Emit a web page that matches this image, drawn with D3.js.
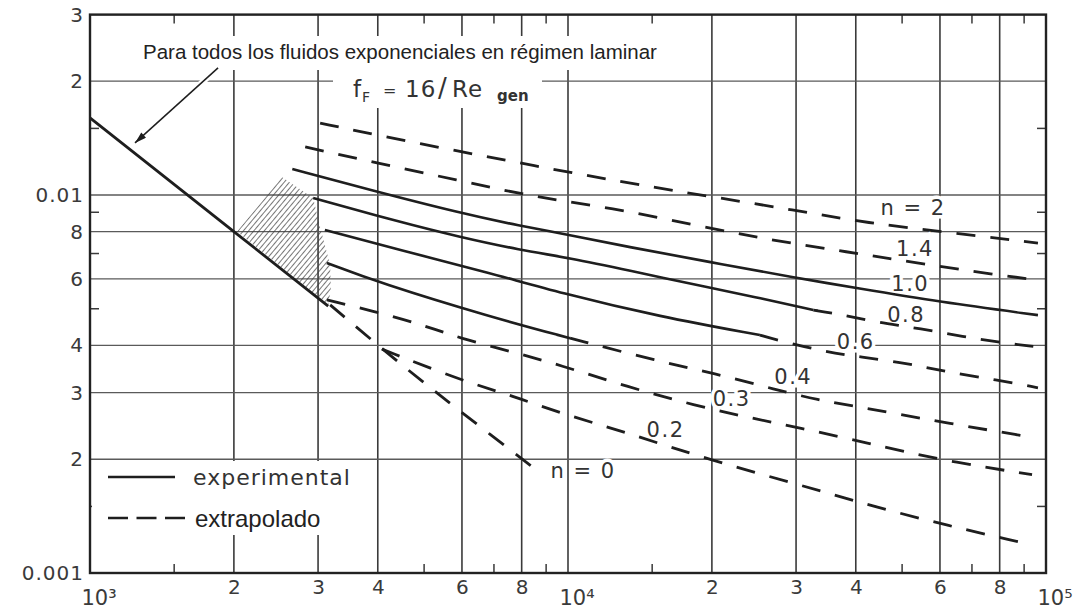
<!DOCTYPE html>
<html>
<head>
<meta charset="utf-8">
<script src="https://cdn.jsdelivr.net/npm/d3@7"></script>
<style>
    body { margin: 0; background: #fff; }
    .tech { font-family: "DejaVu Sans", sans-serif; fill: #333; }
    .sans { font-family: "Liberation Sans", Arial, sans-serif; fill: #222; }
</style>
</head>
<body>
<div id="chart"></div>
<script>
// Data: generalized Reynolds number vs Fanning friction factor
const laminarRe = [1000, 2000, 3150];
const laminarF = [0.016, 0.008, 0.00508];

const reN2 = [3030, 3980, 6000, 7940, 10000, 14100, 20100, 29600, 42200, 63900, 96200];
const fN2 = [0.0155, 0.0144, 0.0130, 0.01215, 0.0115, 0.01063, 0.00988, 0.00913, 0.00843, 0.00793, 0.00746];

const reN14 = [2820, 3980, 5860, 8450, 12400, 18300, 26500, 38400, 53700, 79000, 96200];
const fN14 = [0.0134, 0.01215, 0.01096, 0.00988, 0.00924, 0.00833, 0.0076, 0.00707, 0.00661, 0.00614, 0.00596];

const reN10 = [2650, 3850, 5940, 7940, 10100, 13300, 19800, 30100, 39900, 60000, 96200];
const fN10 = [0.01172, 0.01031, 0.00896, 0.00828, 0.00784, 0.00729, 0.00665, 0.00603, 0.00568, 0.00521, 0.00481];

const reN08 = [2930, 4450, 5940, 7940, 10100, 13300, 19800, 25200, 32600, 37100, 43900, 53700, 73500, 96200];
const fN08 = [0.00982, 0.00848, 0.00774, 0.00715, 0.00681, 0.00633, 0.00568, 0.00534, 0.00496, 0.00484, 0.00461, 0.00445, 0.00413, 0.00396];

const reN06 = [3100, 4450, 6870, 9620, 15600, 25200, 27400, 34800, 40800, 51200, 62100, 79000, 96200];
const fN06 = [0.00808, 0.00715, 0.00622, 0.00551, 0.00476, 0.00426, 0.00413, 0.00384, 0.00373, 0.00359, 0.0034, 0.00324, 0.00309];

const reN04 = [3130, 4040, 6870, 10100, 15600, 20100, 27400, 33200, 40800, 60000, 92600];
const fN04 = [0.00661, 0.00585, 0.00476, 0.00418, 0.00362, 0.00338, 0.00305, 0.00287, 0.00275, 0.00251, 0.00229];

const reN03 = [3130, 3980, 4970, 5940, 7670, 9620, 13300, 18300, 25200, 30100, 42200, 60000, 93500];
const fN03 = [0.00528, 0.0049, 0.00453, 0.00418, 0.00384, 0.00355, 0.00311, 0.00278, 0.00254, 0.00243, 0.00221, 0.00199, 0.00182];

const reN02 = [4080, 5940, 7670, 9620, 13300, 19800, 30600, 43500, 63000, 87400];
const fN02 = [0.00391, 0.00324, 0.00294, 0.00265, 0.00235, 0.00199, 0.00171, 0.0015, 0.00133, 0.00121];

const reN0 = [3180, 4180, 5320, 6770, 8740];
const fN0 = [0.00512, 0.00382, 0.00299, 0.00236, 0.00184];

// Re up to which each curve is experimental (solid)
const experimentalTo = [0, 0, 96200, 32600, 25200, 10100, 0, 0, 0];

// transition zone (hatched)
const hatchRe = [2030, 2520, 2930, 3030, 3180, 3190, 3150];
const hatchF = [0.008, 0.01116, 0.00982, 0.00823, 0.00653, 0.00561, 0.00512];

// curve labels
const labelText = ["n = 2", "1.4", "1.0", "0.8", "0.6", "0.4", "0.3", "0.2", "n = 0"];
const labelRe = [52700, 53200, 52000, 51000, 40000, 29600, 22000, 16000, 10750];
const labelF = [0.00924, 0.0072, 0.00582, 0.00481, 0.00408, 0.0033, 0.00289, 0.00239, 0.00186];

// arrow pointing to the laminar line
const arrowRe = [1853, 1242];
const arrowF = [0.02168, 0.01373];

// axes
const xTicks = [1000, 2000, 3000, 4000, 6000, 8000, 10000, 20000, 30000, 40000, 60000, 80000, 100000];
const xTickText = ["10³", "2", "3", "4", "6", "8", "10⁴", "2", "3", "4", "6", "8", "10⁵"];
const xMinor = [1500, 5000, 7000, 9000, 15000, 50000, 70000, 90000];
const yTicks = [0.001, 0.002, 0.003, 0.004, 0.006, 0.008, 0.01, 0.02, 0.03];
const yTickText = ["0.001", "2", "3", "4", "6", "8", "0.01", "2", "3"];
const yMinor = [0.0015, 0.005, 0.007, 0.009, 0.015];

// Configuration
const margin = { top: 14.6, left: 90 };
const width = 956;
const height = 558.4;
const ink = "#1e1e1e";

const root = d3.select("#chart")
    .append("svg")
    .attr("width", 1077)
    .attr("height", 610);

const defs = root.append("defs");
defs.append("pattern")
    .attr("id", "hatch")
    .attr("patternUnits", "userSpaceOnUse")
    .attr("width", 4)
    .attr("height", 4)
    .attr("patternTransform", "rotate(40)")
    .append("line")
    .attr("x1", 0).attr("y1", 0)
    .attr("x2", 0).attr("y2", 4)
    .attr("stroke", "#3c3c3c")
    .attr("stroke-width", 1.4);

defs.append("marker")
    .attr("id", "arrow")
    .attr("markerUnits", "userSpaceOnUse")
    .attr("viewBox", "0 0 10 6")
    .attr("refX", 10)
    .attr("refY", 3)
    .attr("markerWidth", 15)
    .attr("markerHeight", 7)
    .attr("orient", "auto")
    .append("path")
    .attr("d", "M0,0 L10,3 L0,6 Z")
    .attr("fill", ink);

const plot = () => root.append("g").attr("transform", `translate(${margin.left}, ${margin.top})`);
const gridLayer = plot();
const maskLayer = root.append("g");
const hatchLayer = plot();
const labelLayer = plot();
const curveLayer = plot();
const frameLayer = plot();
const annoLayer = root.append("g");

const x = d3.scaleLog().domain([1000, 100000]).range([0, width]);
const y = d3.scaleLog().domain([0.001, 0.03]).range([height, 0]);

// Grid
gridLayer.selectAll(".vgrid")
    .data(xTicks)
    .join("line")
    .attr("x1", d => x(d)).attr("x2", d => x(d))
    .attr("y1", 0).attr("y2", height)
    .attr("stroke", "#3a3a3a")
    .attr("stroke-width", 1.6);

gridLayer.selectAll(".hgrid")
    .data(yTicks)
    .join("line")
    .attr("x1", 0).attr("x2", width)
    .attr("y1", d => y(d)).attr("y2", d => y(d))
    .attr("stroke", "#5a5a5a")
    .attr("stroke-width", 1.4);

// Minor ticks on all four sides
const tickLen = 9;
xMinor.forEach(d => {
    [[0, tickLen], [height, height - tickLen]].forEach(([a, b]) => {
        gridLayer.append("line")
            .attr("x1", x(d)).attr("x2", x(d)).attr("y1", a).attr("y2", b)
            .attr("stroke", "#3a3a3a").attr("stroke-width", 1.5);
    });
});
yMinor.forEach(d => {
    [[0, tickLen], [width, width - tickLen]].forEach(([a, b]) => {
        gridLayer.append("line")
            .attr("y1", y(d)).attr("y2", y(d)).attr("x1", a).attr("x2", b)
            .attr("stroke", "#3a3a3a").attr("stroke-width", 1.5);
    });
});

// White patches where the original grid is interrupted by text
[[138, 36, 524, 34], [333, 70, 209, 38], [92, 461, 273, 74]].forEach(([rx, ry, rw, rh]) => {
    maskLayer.append("rect")
        .attr("x", rx).attr("y", ry).attr("width", rw).attr("height", rh)
        .attr("fill", "#fff");
});

// Transition zone
const hatchPts = hatchRe.map((r, i) => [x(r), y(hatchF[i])]);
hatchLayer.append("polygon")
    .attr("points", hatchPts.map(p => p.join(",")).join(" "))
    .attr("fill", "url(#hatch)");

// Curve labels with white halo
labelLayer.selectAll(".clabel")
    .data(labelText)
    .join("text")
    .attr("class", "tech")
    .attr("x", (d, i) => x(labelRe[i]))
    .attr("y", (d, i) => y(labelF[i]))
    .attr("text-anchor", "middle")
    .attr("dominant-baseline", "central")
    .style("font-size", "21px")
    .style("letter-spacing", "1.5px")
    .attr("stroke", "#fff")
    .attr("stroke-width", 7)
    .attr("paint-order", "stroke")
    .text(d => d);

// Curves
const curves = [
    [reN2, fN2], [reN14, fN14], [reN10, fN10], [reN08, fN08], [reN06, fN06],
    [reN04, fN04], [reN03, fN03], [reN02, fN02], [reN0, fN0]
];

const line = d3.line()
    .x(d => x(d.re))
    .y(d => y(d.f))
    .curve(d3.curveBasis);

curves.forEach(([res, fs], i) => {
    const pts = res.map((r, j) => ({ re: r, f: fs[j] }));
    const solid = pts.filter(p => p.re <= experimentalTo[i]);
    const dashed = pts.filter(p => p.re >= experimentalTo[i]);
    if (solid.length > 1) {
        curveLayer.append("path")
            .attr("d", line(solid))
            .attr("fill", "none")
            .attr("stroke", ink)
            .attr("stroke-width", 2.6);
    }
    if (dashed.length > 1) {
        curveLayer.append("path")
            .attr("d", line(dashed))
            .attr("fill", "none")
            .attr("stroke", ink)
            .attr("stroke-width", 2.8)
            .attr("stroke-dasharray", "19,15");
    }
});

// Laminar line
curveLayer.append("path")
    .attr("d", d3.line().x(d => x(d[0])).y(d => y(d[1]))(laminarRe.map((r, i) => [r, laminarF[i]])))
    .attr("fill", "none")
    .attr("stroke", ink)
    .attr("stroke-width", 2.8);

// Frame
frameLayer.append("rect")
    .attr("width", width)
    .attr("height", height)
    .attr("fill", "none")
    .attr("stroke", "#222")
    .attr("stroke-width", 2.4);

// Axes
const yAxis = frameLayer.append("g")
    .call(d3.axisLeft(y).tickValues(yTicks).tickFormat((d, i) => yTickText[i]).tickSize(0).tickPadding(6));
yAxis.select(".domain").remove();
yAxis.selectAll("text")
    .style("font-family", "'DejaVu Sans', sans-serif")
    .style("font-size", "20px")
    .style("letter-spacing", "1px")
    .attr("fill", "#3a3a3a");

const xAxis = frameLayer.append("g")
    .attr("transform", `translate(0, ${height})`)
    .call(d3.axisBottom(x).tickValues(xTicks).tickFormat((d, i) => xTickText[i]).tickSize(0).tickPadding(7));
xAxis.select(".domain").remove();
xAxis.selectAll("text")
    .style("font-family", "'DejaVu Sans', sans-serif")
    .style("font-size", "20px")
    .attr("fill", "#3a3a3a");
xAxis.selectAll("text")
    .filter(d => Math.log10(d) % 1 === 0)
    .attr("text-anchor", "start")
    .attr("dx", -9)
    .attr("y", 17)
    .style("font-size", "21px");

// Arrow
const arrowPts = arrowRe.map((r, i) => [x(r), y(arrowF[i])]);
const arrowPath = d3.line()(arrowPts);
curveLayer.append("path")
    .attr("d", arrowPath)
    .attr("stroke", "#fff")
    .attr("stroke-width", 6);
curveLayer.append("path")
    .attr("d", arrowPath)
    .attr("stroke", ink)
    .attr("stroke-width", 1.5)
    .attr("marker-end", "url(#arrow)");

// Annotation texts
annoLayer.append("text")
    .attr("class", "sans")
    .attr("x", 143)
    .attr("y", 59)
    .style("font-size", "20.5px")
    .text("Para todos los fluidos exponenciales en régimen laminar");

const ff = annoLayer.append("text")
    .attr("class", "tech")
    .attr("y", 97)
    .style("font-size", "23px");
ff.append("tspan").attr("x", 353).text("f");
ff.append("tspan").attr("x", 362).attr("dy", 5).style("font-size", "14px").text("F");
ff.append("tspan").attr("x", 383).attr("dy", -6).style("font-size", "16px").text("=");
ff.append("tspan").attr("x", 405).attr("dy", 1).style("letter-spacing", "1px").text("16");
ff.append("tspan").attr("x", 438).style("font-size", "26px").text("/");
ff.append("tspan").attr("x", 452).style("letter-spacing", "1px").text("Re");
ff.append("tspan").attr("x", 497).attr("dy", 4).style("font-size", "15px").style("font-weight", "bold").text("gen");

// Legend
annoLayer.append("line")
    .attr("x1", 108).attr("x2", 175).attr("y1", 477).attr("y2", 477)
    .attr("stroke", ink).attr("stroke-width", 2.6);
annoLayer.append("text")
    .attr("class", "tech")
    .attr("x", 193).attr("y", 477)
    .attr("dominant-baseline", "central")
    .style("font-size", "22px")
    .style("letter-spacing", "1px")
    .text("experimental");
annoLayer.append("line")
    .attr("x1", 108).attr("x2", 186).attr("y1", 518).attr("y2", 518)
    .attr("stroke", ink).attr("stroke-width", 2.6)
    .attr("stroke-dasharray", "20,8.5");
annoLayer.append("text")
    .attr("class", "sans")
    .attr("x", 195).attr("y", 518)
    .attr("dominant-baseline", "central")
    .style("font-size", "24px")
    .text("extrapolado");
</script>
</body>
</html>
